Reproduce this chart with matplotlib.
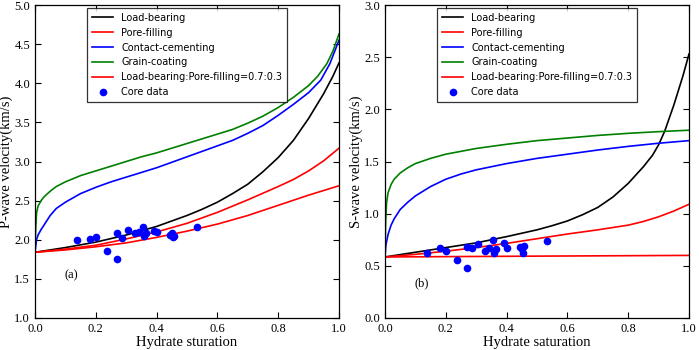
import matplotlib
matplotlib.use("Agg")
import matplotlib.pyplot as plt
import numpy as np

# ---------------- data ----------------
# P-wave (km/s)
p_lb_x = [0, 0.1, 0.2, 0.3, 0.4, 0.5, 0.55, 0.6, 0.65, 0.7, 0.75, 0.8, 0.85, 0.9, 0.95, 0.98, 1.0]
p_lb_y = [1.84, 1.90, 1.97, 2.06, 2.17, 2.31, 2.39, 2.48, 2.59, 2.71, 2.87, 3.05, 3.27, 3.55, 3.87, 4.09, 4.26]

p_pf_x = [0, 0.1, 0.2, 0.3, 0.4, 0.5, 0.6, 0.7, 0.8, 0.9, 1.0]
p_pf_y = [1.84, 1.87, 1.91, 1.96, 2.03, 2.11, 2.20, 2.31, 2.44, 2.57, 2.69]

p_cc_x = [0, 0.005, 0.01, 0.02, 0.03, 0.05, 0.07, 0.1, 0.15, 0.2, 0.25, 0.3, 0.35, 0.4, 0.45,
          0.5, 0.55, 0.6, 0.65, 0.7, 0.75, 0.8, 0.85, 0.9, 0.94, 0.97, 1.0]
p_cc_y = [1.84, 2.0, 2.06, 2.13, 2.19, 2.31, 2.40, 2.48, 2.59, 2.67, 2.74, 2.80, 2.86, 2.92, 2.99,
          3.06, 3.13, 3.20, 3.27, 3.36, 3.46, 3.59, 3.73, 3.88, 4.04, 4.25, 4.55]

p_gc_x = [0, 0.002, 0.005, 0.01, 0.02, 0.03, 0.05, 0.07, 0.1, 0.15, 0.2, 0.25, 0.3, 0.35, 0.4,
          0.45, 0.5, 0.55, 0.6, 0.65, 0.7, 0.75, 0.8, 0.85, 0.9, 0.93, 0.96, 0.98, 1.0]
p_gc_y = [1.84, 2.10, 2.34, 2.43, 2.50, 2.55, 2.62, 2.68, 2.74, 2.82, 2.88, 2.94, 3.00, 3.06, 3.11,
          3.17, 3.23, 3.29, 3.35, 3.41, 3.49, 3.58, 3.69, 3.82, 3.97, 4.09, 4.25, 4.41, 4.63]

p_mix_x = [0, 0.1, 0.2, 0.3, 0.4, 0.5, 0.6, 0.7, 0.8, 0.85, 0.9, 0.95, 1.0]
p_mix_y = [1.84, 1.88, 1.93, 2.01, 2.10, 2.21, 2.35, 2.51, 2.68, 2.77, 2.88, 3.01, 3.17]

# S-wave (km/s)
s_lb_x = [0, 0.1, 0.2, 0.3, 0.4, 0.5, 0.55, 0.6, 0.65, 0.7, 0.75, 0.8, 0.85, 0.88, 0.9, 0.92, 0.95, 0.98, 1.0]
s_lb_y = [0.585, 0.63, 0.675, 0.72, 0.78, 0.845, 0.885, 0.93, 0.99, 1.06, 1.16, 1.29, 1.45, 1.56, 1.66,
          1.79, 2.04, 2.32, 2.53]

s_pf_x = [0, 0.5, 1.0]
s_pf_y = [0.585, 0.593, 0.60]

s_cc_x = [0, 0.003, 0.01, 0.02, 0.03, 0.05, 0.075, 0.1, 0.15, 0.2, 0.25, 0.3, 0.4, 0.5, 0.6, 0.7,
          0.8, 0.9, 1.0]
s_cc_y = [0.585, 0.70, 0.80, 0.89, 0.95, 1.04, 1.11, 1.17, 1.26, 1.33, 1.38, 1.42, 1.48, 1.53, 1.57,
          1.61, 1.645, 1.675, 1.70]

s_gc_x = [0, 0.002, 0.005, 0.01, 0.02, 0.03, 0.05, 0.075, 0.1, 0.15, 0.2, 0.3, 0.4, 0.5, 0.6, 0.7,
          0.8, 0.9, 1.0]
s_gc_y = [0.585, 0.90, 1.10, 1.20, 1.28, 1.33, 1.39, 1.44, 1.48, 1.53, 1.57, 1.625, 1.665, 1.70,
          1.725, 1.75, 1.77, 1.786, 1.80]

s_mix_x = [0, 0.1, 0.2, 0.3, 0.4, 0.5, 0.6, 0.7, 0.8, 0.85, 0.9, 0.95, 1.0]
s_mix_y = [0.585, 0.61, 0.64, 0.675, 0.715, 0.76, 0.805, 0.845, 0.89, 0.925, 0.97, 1.025, 1.09]

# Core data
core_sh = [0.137, 0.18, 0.20, 0.236, 0.27, 0.27, 0.285, 0.307, 0.33, 0.343, 0.354, 0.36, 0.364,
           0.39, 0.40, 0.444, 0.452, 0.455, 0.458, 0.532]
core_vp = [2.00, 2.01, 2.04, 1.86, 2.08, 1.76, 2.02, 2.12, 2.09, 2.10, 2.16, 2.05, 2.08,
           2.11, 2.10, 2.06, 2.09, 2.03, 2.05, 2.16]
core_vs = [0.62, 0.67, 0.64, 0.56, 0.68, 0.48, 0.67, 0.71, 0.645, 0.67, 0.75, 0.62, 0.66,
           0.72, 0.67, 0.68, 0.66, 0.62, 0.69, 0.74]

legend_labels = ["Load-bearing", "Pore-filling", "Contact-cementing", "Grain-coating",
                 "Load-bearing:Pore-filling=0.7:0.3", "Core data"]

# ---------------- plot ----------------
fig = plt.figure(figsize=(6.99, 3.5), dpi=100)
serif = ["Liberation Serif", "DejaVu Serif"]

def panel(ax, curves, cy, ylim, yticks, ylabel, xlabel, tag, tagpos):
    colors = ["black", "red", "blue", "green", "red"]
    for (x, y), c, lab in zip(curves, colors, legend_labels[:5]):
        ax.plot(x, y, color=c, lw=1.2, label=lab)
    ax.plot(core_sh, cy, "o", color="blue", ms=4.5, mec="blue", label=legend_labels[5])
    ax.set_xlim(0, 1)
    ax.set_ylim(*ylim)
    ax.set_xticks(np.arange(0, 1.01, 0.2))
    ax.set_yticks(yticks)
    ax.tick_params(direction="in", top=True, right=True, length=4, width=0.8, labelsize=9)
    for lbl in ax.get_xticklabels() + ax.get_yticklabels():
        lbl.set_fontfamily(serif)
    ax.set_xlabel(xlabel, family=serif, fontsize=10.5, labelpad=1)
    ax.set_ylabel(ylabel, family=serif, fontsize=10.5, labelpad=1)
    ax.text(tagpos[0], tagpos[1], tag, family=serif, fontsize=9, ha="center", va="center")
    leg = ax.legend(loc="upper center", fontsize=7.0, frameon=True, fancybox=False,
                    edgecolor="black", borderaxespad=0.3, handlelength=2.2,
                    numpoints=1, labelspacing=0.5, borderpad=0.5)
    leg.get_frame().set_linewidth(0.9)
    for s in ax.spines.values():
        s.set_linewidth(0.9)

ax1 = fig.add_axes([35/699, 32/350, 304/699, 313/350])
panel(ax1, [(p_lb_x, p_lb_y), (p_pf_x, p_pf_y), (p_cc_x, p_cc_y), (p_gc_x, p_gc_y), (p_mix_x, p_mix_y)],
      core_vp, (1.0, 5.0), np.arange(1.0, 5.01, 0.5), "P-wave velocity(km/s)", "Hydrate sturation",
      "(a)", (0.12, 1.55))

ax2 = fig.add_axes([385/699, 32/350, 304/699, 313/350])
panel(ax2, [(s_lb_x, s_lb_y), (s_pf_x, s_pf_y), (s_cc_x, s_cc_y), (s_gc_x, s_gc_y), (s_mix_x, s_mix_y)],
      core_vs, (0.0, 3.0), np.arange(0.0, 3.01, 0.5), "S-wave velocity(km/s)", "Hydrate saturation",
      "(b)", (0.12, 0.33))

fig.savefig("out.png", dpi=100)
